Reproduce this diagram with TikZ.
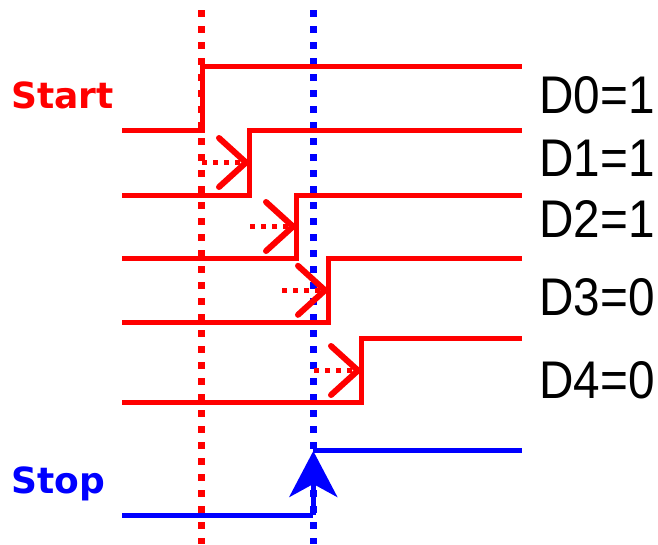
\documentclass[tikz,border=0pt]{standalone}
\usepackage{fontspec}
\setmainfont{Liberation Sans}
\newfontfamily\sigfont{DejaVu Sans}
\usetikzlibrary{arrows.meta}
\definecolor{sred}{RGB}{255,0,0}
\definecolor{sblue}{RGB}{0,0,255}
\begin{document}
\begin{tikzpicture}[x=1pt,y=-1pt,
  sig/.style={line width=5pt, line join=miter},
  vdot/.style={line width=7.5pt, dash pattern=on 7pt off 9pt},
  hdot/.style={sred, line width=5.5pt, dash pattern=on 5pt off 6pt},
  vee/.style={sred, line width=6pt, line cap=round, line join=round},
  dlab/.style={anchor=base west, inner sep=0pt, font=\fontsize{53}{60}\selectfont},
  slab/.style={anchor=base west, inner sep=0pt, font=\sigfont\bfseries\fontsize{36}{40}\selectfont}]
\useasboundingbox (0,0) rectangle (658,544);
% vertical dotted markers
\coordinate (rt) at (201.7,10);
\coordinate (rb) at (201.7,544);
\coordinate (bt) at (313.3,10);
\coordinate (bb) at (313.3,544);
\draw[vdot, sred] (rt) -- (rb);
\draw[vdot, sblue] (bt) -- (bb);
% signals
\draw[sig, sred] (122,130) -- (202,130) -- (202,66.7) -- (522,66.7);
\draw[sig, sred] (122,195) -- (249,195) -- (249,130) -- (522,130);
\draw[sig, sred] (122,258.3) -- (296,258.3) -- (296,195) -- (522,195);
\draw[sig, sred] (122,322.3) -- (328,322.3) -- (328,258.3) -- (522,258.3);
\draw[sig, sred] (122,402.7) -- (361,402.7) -- (361,338.3) -- (522,338.3);
\draw[sig, sblue] (122,515) -- (313.3,515);
\draw[sig, sblue] (313.3,450.7) -- (522,450.7);
\coordinate (sb) at (313.3,515);
\coordinate (st) at (313.3,451);
\draw[sig, sblue, -{Stealth[length=46pt,width=48pt,inset=13pt]}] (sb) -- (st);
% delay arrows
\foreach \xe/\ym/\xs in {249/162.5/202, 296/226.5/250, 328/290.3/282, 361/370.5/314}{
  \draw[hdot] (\xs,\ym) -- (\xe-2,\ym);
  \draw[vee] (\xe-30,\ym-24.5) -- (\xe-3,\ym) -- (\xe-30,\ym+24.5);
}
% labels
\node[slab, text=sred] (start) at (11,108) {Start};
\node[slab, text=sblue] (stop) at (11,493) {Stop};
\node[dlab] (d0) at (539,113) {\scalebox{0.9}[1]{D0=1}};
\node[dlab] (d1) at (539,176) {\scalebox{0.9}[1]{D1=1}};
\node[dlab] (d2) at (539,237) {\scalebox{0.9}[1]{D2=1}};
\node[dlab] (d3) at (539,315) {\scalebox{0.9}[1]{D3=0}};
\node[dlab] (d4) at (539,398) {\scalebox{0.9}[1]{D4=0}};
\end{tikzpicture}
\end{document}
